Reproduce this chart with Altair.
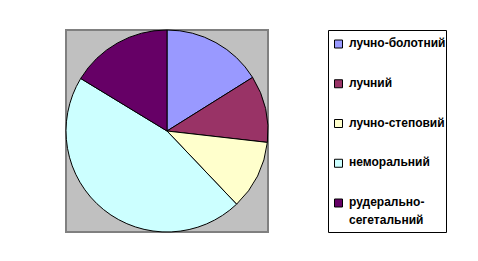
import altair as alt
import pandas as pd

# Habitat groups and their shares (%) of the flora
categories = ["лучно-болотний", "лучний", "лучно-степовий", "неморальний", "рудерально-сегетальний"]
labels = ["лучно-болотний", "лучний", "лучно-степовий", "неморальний", "рудерально-\nсегетальний"]
shares = [16.1, 10.7, 11.1, 45.8, 16.3]
colors = ["#9999FF", "#993366", "#FFFFCC", "#CCFFFF", "#660066"]

df = pd.DataFrame({
    "category": categories,
    "label": labels,
    "share": shares,
    "rank": list(range(len(categories))),
})

color = alt.Color("category:N", scale=alt.Scale(domain=categories, range=colors), legend=None)

pie = (
    alt.Chart(df)
    .mark_arc(stroke="black", strokeWidth=1)
    .encode(
        theta=alt.Theta("share:Q", stack=True),
        color=color,
        order=alt.Order("rank:Q"),
    )
    .properties(
        width=202,
        height=202,
        view=alt.ViewBackground(fill="#C0C0C0", stroke="#808080", strokeWidth=2),
    )
)

# Hand-built legend box: one row per category
row = alt.Y(
    "category:N",
    sort=categories,
    scale=alt.Scale(type="point", range=[14, 173], padding=0),
    axis=None,
)

swatches = (
    alt.Chart(df)
    .mark_square(size=64, stroke="black", strokeWidth=1, opacity=1)
    .encode(x=alt.value(10.5), y=row, color=color)
)

texts = (
    alt.Chart(df)
    .mark_text(
        align="left",
        baseline="top",
        dy=-6,
        font="Liberation Sans",
        fontSize=12,
        fontWeight="bold",
        lineBreak="\n",
        lineHeight=18,
        color="black",
    )
    .encode(x=alt.value(21), y=row, text="label:N")
)

legend = alt.layer(swatches, texts).properties(
    width=118,
    height=202,
    view=alt.ViewBackground(fill="white", stroke="black", strokeWidth=1),
)

chart = alt.hconcat(pie, legend, spacing=56).properties(
    padding={"left": 63, "top": 27, "right": 0, "bottom": 0},
    background="white",
)

chart.save("out.html", embed_options={"renderer": "svg", "actions": False})
